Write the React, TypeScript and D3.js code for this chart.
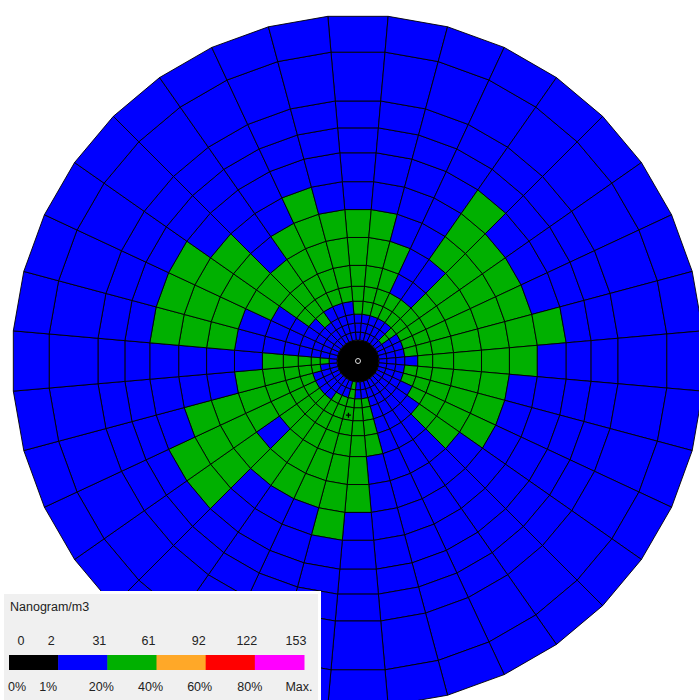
import { useEffect, useRef } from 'react';
import * as d3 from 'd3';

// polar receptor grid: 36 directions (deg from north), ring edges (grid units)
const directions = [0, 10, 20, 30, 40, 50, 60, 70, 80, 90, 100, 110, 120, 130, 140, 150, 160, 170,
  180, 190, 200, 210, 220, 230, 240, 250, 260, 270, 280, 290, 300, 310, 320, 330, 340, 350];
const ringEdges = [21, 29, 38, 47, 60, 75, 96, 124, 152, 180, 209, 234, 261, 310, 346];

// concentration class of each cell, inner ring first (1 = 2-31, 2 = 31-61 ng/m3)
const cellClasses = [
  '11122222111111', // 0
  '11122222111111', // 10
  '11122221111111', // 20
  '11122111111111', // 30
  '11122112221111', // 40
  '12222222211111', // 50
  '11122222211111', // 60
  '11122222211111', // 70
  '11122222221111', // 80
  '11112222211111', // 90
  '11122222111111', // 100
  '11122222111111', // 110
  '11112222111111', // 120
  '11111221111111', // 130
  '11111111111111', // 140
  '11111111111111', // 150
  '11111111111111', // 160
  '11222211111111', // 170
  '11222222111111', // 180
  '22222222211111', // 190
  '11222222111111', // 200
  '11222222111111', // 210
  '11122222111111', // 220
  '11122212221111', // 230
  '11122222221111', // 240
  '11122222211111', // 250
  '11222221111111', // 260
  '12222211111111', // 270
  '11111112221111', // 280
  '11111112221111', // 290
  '11111122221111', // 300
  '11112222211111', // 310
  '11122221111111', // 320
  '11112222111111', // 330
  '11112222211111', // 340
  '11112222111111', // 350
];

const sources = [{ dir: 190, dist: 55 }];

const legendTitle = 'Nanogram/m3';
const legendValues = ['0', '2', '31', '61', '92', '122', '153'];
const legendPercents = ['0%', '1%', '20%', '40%', '60%', '80%', 'Max.'];
const classColors = ['#000000', '#0000ff', '#00b000', '#ffa828', '#ff0000', '#ff00ff'];

export default function App() {
  const svgRef = useRef(null);

  useEffect(() => {
    const svg = d3.select(svgRef.current);
    svg.selectAll('*').remove();

    const width = 699;
    const height = 700;
    const cx = 358;
    const cy = 361;

    svg.append('rect').attr('width', width).attr('height', height).attr('fill', '#fff');

    const angle = d3.scaleLinear().domain([0, 360]).range([0, 2 * Math.PI]);
    const radius = d3.scaleLinear().domain([0, 346]).range([0, 346]);
    const half = 5;

    const pt = (deg, dist) => {
      const a = angle(deg);
      const r = radius(dist);
      return [cx + r * Math.sin(a), cy - r * Math.cos(a)];
    };

    const poly = d3.line().curve(d3.curveLinearClosed);

    const cells = [];
    directions.forEach((dir, si) => {
      for (let k = 0; k < ringEdges.length - 1; k++) {
        cells.push({
          dir,
          r0: ringEdges[k],
          r1: ringEdges[k + 1],
          cls: +cellClasses[si][k],
        });
      }
    });

    const g = svg.append('g');

    g.selectAll('.cell')
      .data(cells)
      .join('path')
      .attr('class', 'cell')
      .attr('d', d => poly([
        pt(d.dir - half, d.r0),
        pt(d.dir + half, d.r0),
        pt(d.dir + half, d.r1),
        pt(d.dir - half, d.r1),
      ]))
      .attr('fill', d => classColors[d.cls])
      .attr('stroke', '#000')
      .attr('stroke-width', 0.9)
      .attr('stroke-linejoin', 'round');

    // max-concentration core at the centre
    g.append('circle')
      .attr('cx', cx).attr('cy', cy)
      .attr('r', radius(ringEdges[0]))
      .attr('fill', '#000');

    g.append('circle')
      .attr('cx', cx).attr('cy', cy)
      .attr('r', 2.5)
      .attr('fill', 'none')
      .attr('stroke', '#ddd')
      .attr('stroke-width', 1);

    sources.forEach(s => {
      const [x, y] = pt(s.dir, s.dist);
      g.append('path')
        .attr('d', `M${x - 2.5},${y}H${x + 2.5}M${x},${y - 2.5}V${y + 2.5}`)
        .attr('stroke', '#000')
        .attr('stroke-width', 1.3);
    });

    // legend panel
    const lg = svg.append('g');
    lg.append('rect').attr('x', 0).attr('y', 591).attr('width', 321).attr('height', 109).attr('fill', '#fff');
    lg.append('rect').attr('x', 4).attr('y', 594).attr('width', 314).attr('height', 106).attr('fill', '#f0f0f0');

    const font = "'Liberation Sans', Arial, sans-serif";
    lg.append('text')
      .attr('x', 10).attr('y', 611)
      .attr('font-family', font).attr('font-size', 12.5)
      .attr('fill', '#222')
      .text(legendTitle);

    const bar = d3.scaleBand()
      .domain(classColors.map((c, i) => i))
      .range([9, 304]);

    lg.selectAll('.swatch')
      .data(classColors)
      .join('rect')
      .attr('class', 'swatch')
      .attr('x', (d, i) => bar(i))
      .attr('y', 655)
      .attr('width', bar.bandwidth() + 0.5)
      .attr('height', 15)
      .attr('fill', d => d);

    const edge = i => (i < classColors.length ? bar(i) : bar(classColors.length - 1) + bar.bandwidth());
    const valueShift = [12, -7, -8, -8, -7, -8, -8];
    const pctShift = [8, -10, -6, -6, -6, -5, -5];

    lg.selectAll('.val')
      .data(legendValues)
      .join('text')
      .attr('class', 'val')
      .attr('x', (d, i) => edge(i) + valueShift[i])
      .attr('y', 645)
      .attr('text-anchor', 'middle')
      .attr('font-family', font).attr('font-size', 12.5)
      .attr('fill', '#222')
      .text(d => d);

    lg.selectAll('.pct')
      .data(legendPercents)
      .join('text')
      .attr('class', 'pct')
      .attr('x', (d, i) => edge(i) + pctShift[i])
      .attr('y', 691)
      .attr('text-anchor', 'middle')
      .attr('font-family', font).attr('font-size', 12.5)
      .attr('fill', '#222')
      .text(d => d);
  }, []);

  return (
    <svg
      ref={svgRef}
      width={699}
      height={700}
      style={{ position: 'absolute', left: 0, top: 0, display: 'block' }}
    />
  );
}
